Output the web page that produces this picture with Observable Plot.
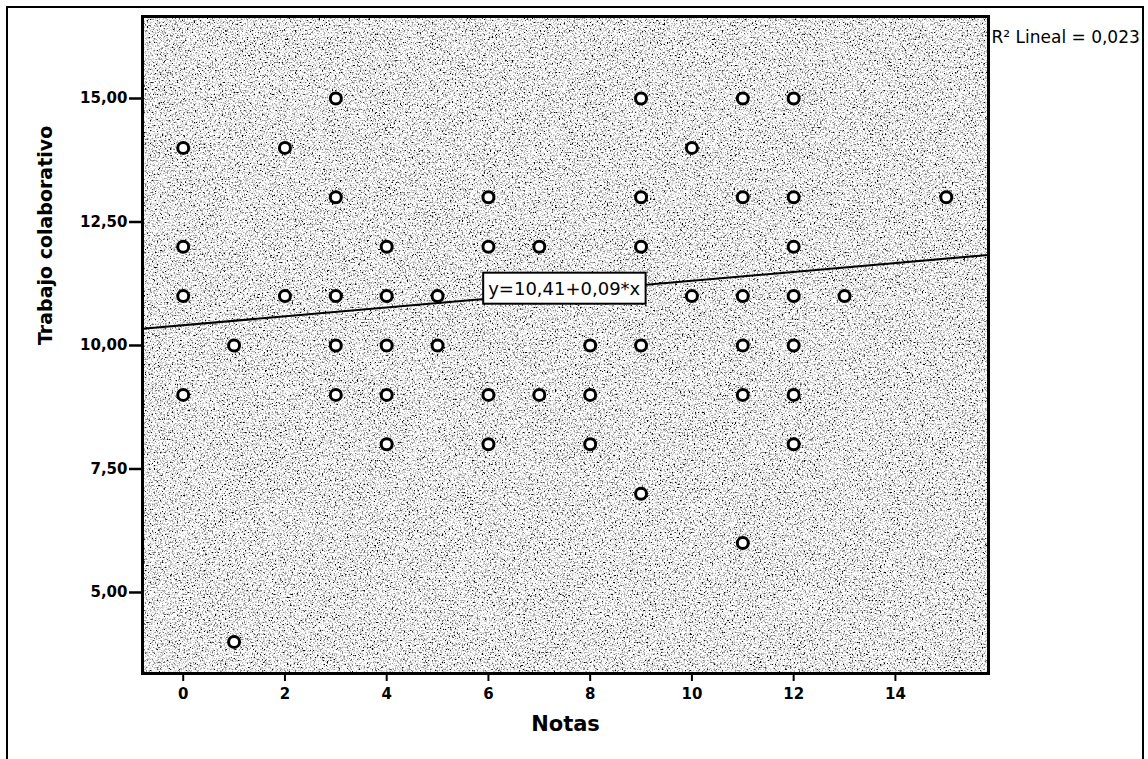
<!DOCTYPE html>
<html>
<head>
<meta charset="utf-8">
<script src="https://cdn.jsdelivr.net/npm/d3@7"></script>
<script src="https://cdn.jsdelivr.net/npm/@observablehq/plot@0.6"></script>
<style>
  html, body { margin: 0; padding: 0; background: #fff; }
  #chart { width: 1148px; height: 759px; overflow: hidden; }
</style>
</head>
<body>
<div id="chart"></div>
<script>
// ---- Data ----
const notas   = [3, 9, 11, 12,
                 0, 2, 10,
                 3, 6, 9, 11, 12, 15,
                 0, 4, 6, 7, 9, 12,
                 0, 2, 3, 4, 5, 10, 11, 12, 13,
                 1, 3, 4, 5, 8, 9, 11, 12,
                 0, 3, 4, 6, 7, 8, 11, 12,
                 4, 6, 8, 12,
                 9, 11, 1];
const trabajo = [15, 15, 15, 15,
                 14, 14, 14,
                 13, 13, 13, 13, 13, 13,
                 12, 12, 12, 12, 12, 12,
                 11, 11, 11, 11, 11, 11, 11, 11, 11,
                 10, 10, 10, 10, 10, 10, 10, 10,
                 9, 9, 9, 9, 9, 9, 9, 9,
                 8, 8, 8, 8,
                 7, 6, 4];
const intercept = 10.41;
const slope = 0.09;
const eqLabel = "y=10,41+0,09*x";
const eqLabelX = 7.49;
const r2Label = "R\u00B2 Lineal = 0,023";
const xTicks = [0, 2, 4, 6, 8, 10, 12, 14];
const yTicks = [5, 7.5, 10, 12.5, 15];
const xTitle = "Notas";
const yTitle = "Trabajo colaborativo";
const xDomain = [-0.8, 15.83];
const yDomain = [3.36, 16.66];

// ---- Derived tables ----
const points = notas.map((x, i) => ({x, y: trabajo[i]}));
const fit = xDomain.map(x => ({x, y: intercept + slope * x}));
const fmt = d => d.toFixed(2).replace(".", ",");

const font = "'DejaVu Sans', 'Liberation Sans', Arial, sans-serif";

const chart = Plot.plot({
  width: 1148,
  height: 759,
  marginLeft: 142,
  marginRight: 160,
  marginTop: 16,
  marginBottom: 86,
  style: {fontFamily: font, color: "#000", background: "#fff", overflow: "visible"},
  x: {domain: xDomain},
  y: {domain: yDomain},
  marks: [
    Plot.frame({fill: "#fff", className: "bgframe"}),
    Plot.axisX({ticks: xTicks, tickSize: 8, tickPadding: 7, strokeWidth: 2,
                fontSize: 15, fontWeight: "bold", label: null}),
    Plot.axisY({ticks: yTicks, tickSize: 13, tickPadding: 2, strokeWidth: 2.5,
                fontSize: 15, fontWeight: "bold", tickFormat: fmt, label: null}),
    Plot.line(fit, {x: "x", y: "y", stroke: "#000", strokeWidth: 2, clip: true}),
    Plot.dot(points, {x: "x", y: "y", r: 5.5, stroke: "#000", strokeWidth: 3, fill: "#fff"}),
    Plot.text([eqLabel], {x: () => eqLabelX, y: () => intercept + slope * eqLabelX,
                          text: d => d, fontSize: 18, dy: -3, fill: "#000", className: "eqlabel"}),
    Plot.text([r2Label], {frameAnchor: "top-right", text: d => d, textAnchor: "start",
                          dx: 3, dy: 14, fontSize: 17, fill: "#000"}),
    Plot.text([xTitle], {frameAnchor: "bottom", text: d => d, dy: 57,
                         fontSize: 21, fontWeight: "bold", fill: "#000"}),
    Plot.text([yTitle], {frameAnchor: "left", text: d => d, dx: -97, rotate: -90,
                         fontSize: 19, fontWeight: "bold", fill: "#000"}),
    Plot.frame({stroke: "#000", strokeWidth: 3})
  ]
});

document.getElementById("chart").appendChild(chart);

// ---- Decoration: speckled background texture, label box, outer border ----
const svg = d3.select(chart);
const defs = svg.insert("defs", ":first-child");
const filt = defs.append("filter").attr("id", "speckle")
  .attr("x", 0).attr("y", 0).attr("width", 1).attr("height", 1);
filt.append("feTurbulence").attr("type", "fractalNoise")
  .attr("baseFrequency", 0.6).attr("numOctaves", 3).attr("seed", 7).attr("result", "noise");
filt.append("feColorMatrix").attr("in", "noise").attr("type", "matrix")
  .attr("values", "-3.6 0 0 0 2.7  -3.6 0 0 0 2.7  -3.6 0 0 0 2.7  0 0 0 0 1")
  .attr("result", "gray");
filt.append("feComposite").attr("in", "gray").attr("in2", "SourceGraphic").attr("operator", "in");
svg.selectAll("g.bgframe rect, rect.bgframe").attr("filter", "url(#speckle)");

const eqNode = svg.select("g.eqlabel text").node();
if (eqNode) {
  const bb = eqNode.getBBox();
  const tr = eqNode.getAttribute("transform");
  const r = d3.select(eqNode.parentNode).insert("rect", "text")
    .attr("x", bb.x - 5).attr("y", bb.y - 5)
    .attr("width", bb.width + 10).attr("height", bb.height + 10)
    .attr("fill", "#fff").attr("stroke", "#000").attr("stroke-width", 2);
  if (tr) r.attr("transform", tr);
}

svg.append("rect").attr("x", 7).attr("y", 7).attr("width", 1136).attr("height", 770)
  .attr("fill", "none").attr("stroke", "#000").attr("stroke-width", 2);
</script>
</body>
</html>
